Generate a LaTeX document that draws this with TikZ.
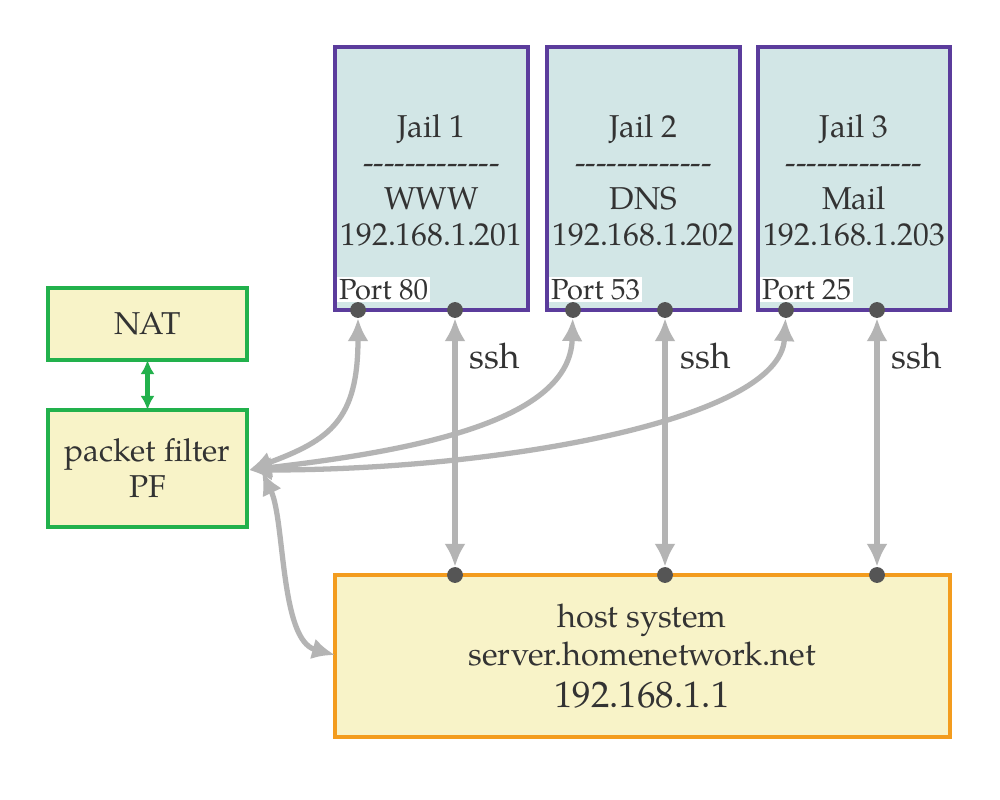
\documentclass[tikz,border=0pt]{standalone}
\usepackage{fontspec}
\setmainfont{TeX Gyre Pagella}
\usetikzlibrary{arrows.meta}
\definecolor{jailfill}{HTML}{D2E6E6}
\definecolor{jailline}{HTML}{5B3C9C}
\definecolor{yfill}{HTML}{F8F3C8}
\definecolor{gline}{HTML}{22B14C}
\definecolor{oline}{HTML}{F39C1E}
\definecolor{arr}{HTML}{B4B4B4}
\definecolor{dotc}{HTML}{555555}
\definecolor{txt}{HTML}{333333}
\newcommand{\dashline}{{-}{-}{-}{-}{-}{-}{-}{-}{-}{-}{-}{-}{-}}
\begin{document}
\begin{tikzpicture}[x=0.02cm,y=-0.02cm,
  jail/.style={draw=jailline,line width=2.3pt,fill=jailfill},
  gbox/.style={draw=gline,line width=2.3pt,fill=yfill},
  hbox/.style={draw=oline,line width=2.3pt,fill=yfill},
  lbl/.style={text=txt,font=\fontsize{18}{20.5}\selectfont,align=center},
  port/.style={text=txt,font=\fontsize{16.5}{18}\selectfont,fill=white,inner sep=1pt,anchor=south west},
  dot/.style={circle,fill=dotc,inner sep=0pt,minimum size=9pt},
  ga/.style={draw=arr,line width=3pt,{Latex[length=13pt,width=12pt]}-{Latex[length=13pt,width=12pt]}}]
\useasboundingbox (0,0) rectangle (1000,800);
\fill[white] (0,0) rectangle (1000,800);
% jails
\draw[jail] (335,47) rectangle (528,310);
\draw[jail] (547,47) rectangle (740,310);
\draw[jail] (758,47) rectangle (950,310);
\node[lbl] (j1) at (431.5,180) {Jail 1\\\dashline\\WWW\\192.168.1.201};
\node[lbl] (j2) at (643.5,180) {Jail 2\\\dashline\\DNS\\192.168.1.202};
\node[lbl] (j3) at (854,180) {Jail 3\\\dashline\\Mail\\192.168.1.203};
\node[port] (p1) at (337,302) {Port 80};
\node[port] (p2) at (549,302) {Port 53};
\node[port] (p3) at (760,302) {Port 25};
% NAT / PF
\draw[gbox] (48,288) rectangle (247,360);
\node[lbl] (nat) at (147.5,324) {NAT};
\draw[gbox] (48,410) rectangle (247,527);
\node[lbl] (pf) at (147.5,468) {packet filter\\PF};
\coordinate (natb) at (147.5,360);
\coordinate (pft) at (147.5,410);
\draw[draw=gline,line width=2.3pt,{Latex[length=8pt,width=8pt]}-{Latex[length=8pt,width=8pt]}] (natb) -- (pft);
% host
\draw[hbox] (335,575) rectangle (950,737);
\node[lbl,font=\fontsize{18.5}{22}\selectfont] (host) at (642,656) {host system\\server.homenetwork.net\\[2pt]{\fontsize{21}{24}\selectfont 192.168.1.1}};
% dots
\node[dot] (a1) at (358,310) {};
\node[dot] (s1) at (455,310) {};
\node[dot] (a2) at (573,310) {};
\node[dot] (s2) at (665,310) {};
\node[dot] (a3) at (786,310) {};
\node[dot] (s3) at (877,310) {};
\node[dot] (h1) at (455,575) {};
\node[dot] (h2) at (665,575) {};
\node[dot] (h3) at (877,575) {};
\coordinate (pfr) at (249,470);
\coordinate (pfh) at (262,472);
\coordinate (hl) at (335,655);
% ssh arrows
\draw[ga] (s1) -- (h1);
\draw[ga] (s2) -- (h2);
\draw[ga] (s3) -- (h3);
\node[lbl,font=\fontsize{20}{22}\selectfont] (ssh1) at (495,356) {ssh};
\node[lbl,font=\fontsize{20}{22}\selectfont] (ssh2) at (706,356) {ssh};
\node[lbl,font=\fontsize{20}{22}\selectfont] (ssh3) at (917,356) {ssh};
% PF arrows
\draw[ga] (pfr) .. controls (330,440) and (358,420) .. (a1);
\draw[ga] (pfr) .. controls (420,450) and (570,420) .. (a2);
\draw[ga] (pfr) .. controls (500,470) and (780,420) .. (a3);
\draw[ga] (pfh) .. controls (285,520) and (280,640) .. (hl);
\end{tikzpicture}
\end{document}
